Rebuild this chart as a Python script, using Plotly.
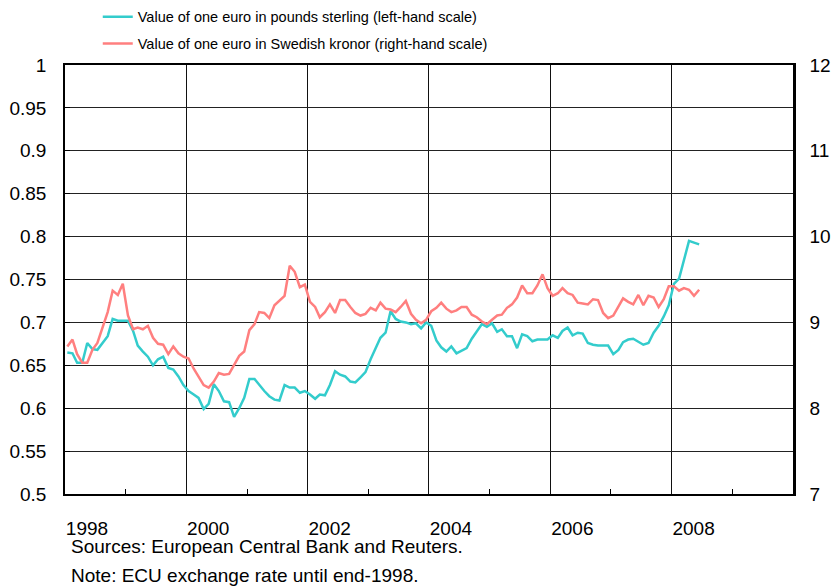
import plotly.graph_objects as go

# Monthly data, Jan 1998 - Jun 2008
gbp = [0.665, 0.664, 0.653, 0.653, 0.676, 0.669, 0.668, 0.676, 0.684, 0.704, 0.702, 0.702,
       0.702, 0.690, 0.673, 0.666, 0.660, 0.650, 0.657, 0.660, 0.647, 0.645, 0.637, 0.627,
       0.620, 0.616, 0.612, 0.599, 0.605, 0.628, 0.620, 0.608, 0.607, 0.590, 0.600, 0.612,
       0.634, 0.634, 0.627, 0.620, 0.614, 0.610, 0.609, 0.627, 0.624, 0.624, 0.618, 0.620,
       0.616, 0.611, 0.616, 0.615, 0.627, 0.643, 0.639, 0.637, 0.631, 0.630, 0.636, 0.642,
       0.657, 0.670, 0.682, 0.688, 0.713, 0.704, 0.701, 0.700, 0.698, 0.699, 0.693, 0.700,
       0.696, 0.679, 0.671, 0.666, 0.672, 0.664, 0.667, 0.670, 0.681, 0.690, 0.698, 0.695,
       0.699, 0.689, 0.692, 0.684, 0.684, 0.670, 0.686, 0.684, 0.678, 0.680, 0.680, 0.680,
       0.685, 0.682, 0.690, 0.694, 0.685, 0.688, 0.687, 0.676, 0.674, 0.673, 0.673, 0.673,
       0.663, 0.668, 0.677, 0.680, 0.681, 0.677, 0.674, 0.676, 0.688, 0.696, 0.707, 0.720,
       0.745, 0.751, 0.773, 0.795, 0.793, 0.791]

sek = [8.72, 8.80, 8.63, 8.53, 8.53, 8.68, 8.76, 8.95, 9.12, 9.37, 9.32, 9.45,
       9.08, 8.92, 8.94, 8.92, 8.96, 8.82, 8.75, 8.74, 8.63, 8.72, 8.64, 8.60,
       8.58, 8.46, 8.36, 8.27, 8.24, 8.31, 8.41, 8.39, 8.40, 8.50, 8.61, 8.66,
       8.91, 8.98, 9.12, 9.11, 9.05, 9.20, 9.26, 9.31, 9.66, 9.59, 9.41, 9.44,
       9.24, 9.18, 9.06, 9.12, 9.21, 9.11, 9.26, 9.26, 9.18, 9.11, 9.08, 9.10,
       9.17, 9.14, 9.23, 9.16, 9.15, 9.12, 9.18, 9.25, 9.10, 9.03, 8.99, 9.03,
       9.13, 9.17, 9.23, 9.16, 9.12, 9.14, 9.18, 9.18, 9.09, 9.06, 9.01, 8.98,
       9.03, 9.08, 9.09, 9.17, 9.21, 9.29, 9.43, 9.34, 9.34, 9.43, 9.56, 9.40,
       9.31, 9.34, 9.40, 9.34, 9.32, 9.23, 9.22, 9.21, 9.27, 9.26, 9.11, 9.05,
       9.08, 9.19, 9.28, 9.24, 9.21, 9.32, 9.20, 9.31, 9.29, 9.18, 9.27, 9.42,
       9.42, 9.37, 9.40, 9.38, 9.31, 9.38]

months = [f"{1998 + i // 12}-{i % 12 + 1:02d}-15" for i in range(len(gbp))]

year_ticks = ["1998-01-01", "2000-01-01", "2002-01-01", "2004-01-01", "2006-01-01", "2008-01-01"]
year_labels = ["1998", "2000", "2002", "2004", "2006", "2008"]
minor_ticks = ["1999-01-01", "2001-01-01", "2003-01-01", "2005-01-01", "2007-01-01", "2009-01-01"]

left_vals = [0.5, 0.55, 0.6, 0.65, 0.7, 0.75, 0.8, 0.85, 0.9, 0.95, 1.0]
left_text = ["0.5", "0.55", "0.6", "0.65", "0.7", "0.75", "0.8", "0.85", "0.9", "0.95", "1"]
right_vals = [7, 8, 9, 10, 11, 12]
right_text = ["7", "8", "9", "10", "11", "12"]

TEAL = "#33CCCC"
SALMON = "#FF7F7F"
FONT = "Liberation Sans, Arial, sans-serif"

fig = go.Figure()
fig.add_trace(go.Scatter(x=months, y=gbp, mode="lines", name="Value of one euro in pounds sterling (left-hand scale)",
                         line=dict(color=TEAL, width=2.5), legendgroup="a"))
fig.add_trace(go.Scatter(x=months, y=sek, mode="lines", name="Value of one euro in Swedish kronor (right-hand scale)",
                         line=dict(color=SALMON, width=2.5), yaxis="y2", legendgroup="b"))

fig.update_layout(
    width=833, height=586,
    margin=dict(l=65, r=40, t=65, b=92, autoexpand=False),
    paper_bgcolor="white", plot_bgcolor="white",
    font=dict(family=FONT, color="black", size=19),
    showlegend=True,
    legend=dict(x=0.045, y=1.1497, xanchor="left", yanchor="top", orientation="v",
                font=dict(size=14.5, color="black"), tracegroupgap=5,
                bgcolor="rgba(0,0,0,0)"),
    xaxis=dict(type="date", range=["1998-01-01", "2010-01-01"],
               tickmode="array", tickvals=year_ticks, ticktext=year_labels,
               ticklabelshift=22, ticklabelstandoff=16, ticks="",
               showgrid=True, gridcolor="#111111", gridwidth=1,
               showline=True, linecolor="black", linewidth=2, mirror=True,
               minor=dict(tickmode="array", tickvals=minor_ticks, ticks="inside",
                          ticklen=5, tickcolor="black", tickwidth=1, showgrid=False),
               zeroline=False),
    yaxis=dict(range=[0.5, 1.0], tickmode="array", tickvals=left_vals, ticktext=left_text,
               showgrid=True, gridcolor="#222222", gridwidth=1,
               ticks="inside", ticklen=5, tickcolor="black",
               ticklabelstandoff=13,
               showline=True, linecolor="black", linewidth=1.5, zeroline=False),
    yaxis2=dict(range=[7, 12], tickmode="array", tickvals=right_vals, ticktext=right_text,
                overlaying="y", side="right", showgrid=False, ticks="",
                ticklabelstandoff=10,
                showline=True, linecolor="black", linewidth=2.5, zeroline=False),
    annotations=[
        dict(text="Sources: European Central Bank and Reuters.", xref="paper", yref="paper",
             x=0.0055, y=-0.1235, xanchor="left", yanchor="middle", showarrow=False,
             font=dict(size=19)),
        dict(text="Note: ECU exchange rate until end-1998.", xref="paper", yref="paper",
             x=0.0055, y=-0.191, xanchor="left", yanchor="middle", showarrow=False,
             font=dict(size=19)),
    ],
)

fig.write_html("out.html", config={"displayModeBar": False},
               post_script="document.body.style.margin='0';document.body.style.overflow='hidden';")
